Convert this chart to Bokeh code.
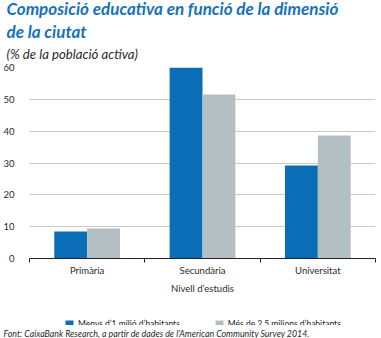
from bokeh.plotting import figure
from bokeh.models import (ColumnDataSource, FixedTicker, Legend, LegendItem, Range1d, Title)
from bokeh.layouts import column
from bokeh.transform import dodge
from bokeh.embed import file_html
from bokeh.resources import INLINE

# ---- data ----
categories = ["Primària", "Secundària", "Universitat"]
menys_1m = [8.5, 60.0, 29.2]
mes_2_5m = [9.4, 51.5, 38.6]
series_names = ["Menys d\u20191 milió d\u2019habitants", "Més de 2,5 milions d\u2019habitants"]
y_ticks = [0, 10, 20, 30, 40, 50, 60]

title_text = "Composició educativa en funció de la dimensió\nde la ciutat"
subtitle_text = "(% de la població activa)"
x_label = "Nivell d\u2019estudis"
source_text = "Font: CaixaBank Research, a partir de dades de l\u2019American Community Survey 2014."

BLUE = "#0a6db6"
GREY = "#b4bfc3"
TITLE_BLUE = "#1672bb"
FONT = "Lato"
TXT = "#2a2a2a"

W = 381
MAIN_H = 296
FOOT_H = 338 - MAIN_H
L, R, T = 26, 6, 67

p = figure(width=W, height=MAIN_H, output_backend="svg", toolbar_location=None, title=None,
           x_range=Range1d(0, 3), y_range=Range1d(0, 60),
           min_border_left=L, min_border_right=R, min_border_top=T,
           min_border_bottom=MAIN_H - T - 192)
p.outline_line_color = None
p.background_fill_color = "white"
p.border_fill_color = "white"

centers = [i + 0.5 for i in range(len(categories))]
src = ColumnDataSource(dict(x=centers, a=menys_1m, b=mes_2_5m))
ra = p.vbar(x=dodge("x", -0.1425), top="a", width=0.285, source=src,
            fill_color=BLUE, line_color=None)
rb = p.vbar(x=dodge("x", 0.1425), top="b", width=0.285, source=src,
            fill_color=GREY, line_color=None)

xa = p.xaxis[0]
xa.ticker = FixedTicker(ticks=centers, minor_ticks=[0, 1, 2, 3])
xa.major_label_overrides = {c: n for c, n in zip(centers, categories)}
xa.major_tick_out = 0
xa.major_tick_in = 0
xa.minor_tick_out = 4
xa.minor_tick_in = 0
xa.minor_tick_line_color = "#222222"
xa.axis_line_color = "#222222"
xa.major_label_text_font = FONT
xa.major_label_text_font_size = "9.5px"
xa.major_label_text_color = TXT
xa.major_label_standoff = 2
xa.axis_label = x_label
xa.axis_label_text_font = FONT
xa.axis_label_text_font_size = "9.5px"
xa.axis_label_text_font_style = "normal"
xa.axis_label_text_color = TXT
xa.axis_label_standoff = 4
p.xgrid.grid_line_color = None

ya = p.yaxis[0]
ya.ticker = FixedTicker(ticks=y_ticks)
ya.axis_line_color = None
ya.major_tick_line_color = None
ya.minor_tick_line_color = None
ya.major_label_text_font = FONT
ya.major_label_text_font_size = "9.5px"
ya.major_label_text_color = TXT
ya.major_label_standoff = 9
p.ygrid.grid_line_color = "#c9c9c9"
p.ygrid.grid_line_width = 1
p.ygrid.ticker = FixedTicker(ticks=y_ticks)

# titles (first added sits closest to the frame)
p.add_layout(Title(text=subtitle_text, align="left", offset=-23, standoff=12,
                   text_font=FONT, text_font_size="13.2px", text_font_style="italic",
                   text_color=TXT), "above")
p.add_layout(Title(text=title_text, align="left", offset=-23, standoff=-9,
                   text_font=FONT, text_font_size="17px", text_font_style="bold italic",
                   text_line_height=1.1, text_color=TITLE_BLUE), "above")

# ---- footer: legend + source ----
foot = figure(width=W, height=FOOT_H, output_backend="svg", toolbar_location=None, title=None,
              x_range=Range1d(0, 1), y_range=Range1d(0, 1),
              x_axis_location=None, y_axis_location=None,
              min_border_left=L, min_border_right=R, min_border_top=0, min_border_bottom=0)
foot.grid.visible = False
foot.outline_line_color = None
foot.background_fill_color = "white"
foot.border_fill_color = "white"
nan = float("nan")
ka = foot.quad(left=[nan], right=[nan], top=[nan], bottom=[nan], fill_color=BLUE, line_color=None)
kb = foot.quad(left=[nan], right=[nan], top=[nan], bottom=[nan], fill_color=GREY, line_color=None)
legend = Legend(items=[LegendItem(label=series_names[0], renderers=[ka]),
                       LegendItem(label=series_names[1], renderers=[kb])],
                orientation="horizontal", location=(35, -4),
                glyph_width=10, glyph_height=10, spacing=34, padding=0, margin=0,
                label_text_font=FONT, label_text_font_size="8.5px",
                label_text_color="#222222", label_standoff=4, label_height=10,
                border_line_color=None, background_fill_alpha=0)
foot.add_layout(legend, "center")
foot.add_layout(Title(text=source_text, align="left", offset=-26, standoff=0,
                      text_font=FONT, text_font_size="8.8px", text_font_style="italic",
                      text_color=TXT), "below")

layout = column(p, foot, spacing=0)
open("out.html", "w").write(file_html(layout, INLINE))
